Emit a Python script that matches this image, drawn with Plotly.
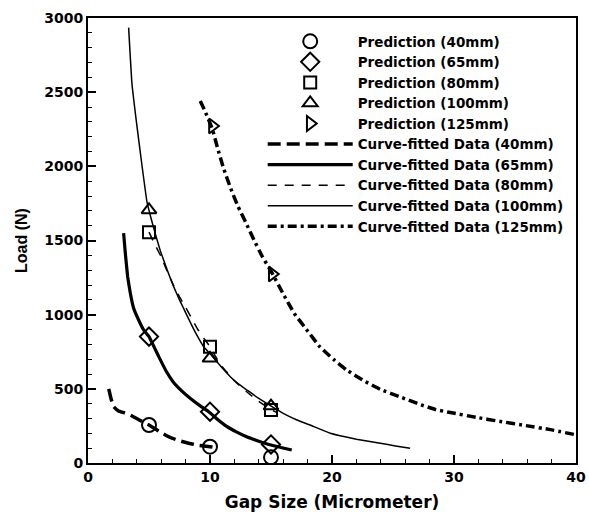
import plotly.graph_objects as go

# ---- Prediction points ----
pred_40_x = [5, 10, 15]
pred_40_y = [256, 110, 38]
pred_65_x = [5, 10, 15]
pred_65_y = [852, 346, 125]
pred_80_x = [5, 10, 15]
pred_80_y = [1556, 784, 357]
pred_100_x = [5, 10, 15]
pred_100_y = [1706, 706, 384]
pred_125_x = [10.2, 15.1]
pred_125_y = [2272, 1274]

# ---- Curve-fitted data ----
fit_40_x = [1.7, 1.9, 2.1, 2.5, 3.0, 3.5, 4.2, 5.0, 6.0, 6.75, 7.5, 8.25, 9.0, 10.0, 10.5]
fit_40_y = [500, 430, 380, 350, 338, 322, 290, 256, 205, 172, 150, 133, 120, 110, 105]
fit_65_x = [2.92, 3.06, 3.25, 3.47, 3.74, 4.15, 4.56, 5.0, 5.8, 6.4, 7.0, 7.7, 8.4, 9.2,
            9.9, 10.6, 11.4, 12.2, 13.0, 14.0, 15.0, 15.9, 16.7]
fit_65_y = [1550, 1414, 1256, 1144, 1043, 964, 897, 852, 717, 620, 545, 485, 435, 385,
            346, 295, 245, 208, 177, 147, 121, 103, 88]
fit_80_x = [5.0, 5.5, 6.0, 6.5, 7.0, 7.5, 8.0, 8.5, 9.0, 9.5, 10.0, 10.5, 11.0, 12.0,
            13.0, 14.0, 15.0, 15.5]
fit_80_y = [1556, 1470, 1390, 1290, 1200, 1120, 1050, 975, 900, 840, 784, 712, 650, 555,
            480, 415, 360, 340]
fit_100_x = [3.33, 3.6, 4.0, 4.42, 4.83, 5.2, 5.5, 5.93, 6.5, 7.02, 7.5, 8.11, 8.8, 9.48,
             10.16, 10.9, 11.66, 12.3, 13.03, 14.0, 15.08, 16.0, 17.13, 18.2, 19.86, 22.0,
             23.96, 25.2, 26.4]
fit_100_y = [2935, 2560, 2279, 2009, 1762, 1640, 1550, 1430, 1300, 1189, 1100, 995, 880, 784,
             722, 650, 582, 535, 492, 435, 380, 335, 290, 256, 200, 160, 133, 115, 99]
fit_125_x = [9.2, 9.6, 10.2, 10.6, 11.1, 11.7, 12.3, 13.0, 13.6, 14.3, 15.1, 16.0, 16.9, 18.0,
             19.0, 20.1, 21.2, 22.6, 24.0, 25.6, 27.2, 28.5, 29.7, 31.8, 33.8, 35.9, 37.9, 40.0]
fit_125_y = [2440, 2370, 2250, 2130, 1990, 1850, 1729, 1610, 1504, 1390, 1279, 1140, 1009, 890,
             784, 700, 627, 555, 495, 445, 395, 360, 340, 308, 280, 252, 225, 190]

x_ticks = [0, 10, 20, 30, 40]
y_ticks = [0, 500, 1000, 1500, 2000, 2500, 3000]

FONT = "DejaVu Sans"
BLACK = "black"

fig = go.Figure()

def pred(name, x, y, symbol, size=13):
    fig.add_trace(go.Scatter(
        x=x, y=y, mode="markers", name=name,
        marker=dict(symbol=symbol, size=size, color=BLACK,
                    line=dict(color=BLACK, width=2)),
    ))

pred("Prediction (40mm)", pred_40_x, pred_40_y, "circle-open", 14)
pred("Prediction (65mm)", pred_65_x, pred_65_y, "diamond-open", 14)
pred("Prediction (80mm)", pred_80_x, pred_80_y, "square-open", 12)
pred("Prediction (100mm)", pred_100_x, pred_100_y, "triangle-up-open", 13)
pred("Prediction (125mm)", pred_125_x, pred_125_y, "triangle-right-open", 13)

def fit(name, x, y, width, dash):
    fig.add_trace(go.Scatter(
        x=x, y=y, mode="lines", name=name,
        line=dict(color=BLACK, width=width, dash=dash, shape="spline", smoothing=0.3),
    ))

fit("Curve-fitted Data (40mm)", fit_40_x, fit_40_y, 3.5, "13px,6px")
fit("Curve-fitted Data (65mm)", fit_65_x, fit_65_y, 3.2, "solid")
fit("Curve-fitted Data (80mm)", fit_80_x, fit_80_y, 1.5, "9px,8px")
fit("Curve-fitted Data (100mm)", fit_100_x, fit_100_y, 1.5, "solid")
fit("Curve-fitted Data (125mm)", fit_125_x, fit_125_y, 3.5, "9px,4px,3px,4px")

axis_common = dict(
    showline=True, linecolor=BLACK, linewidth=2, mirror=True,
    ticks="inside", ticklen=8, tickwidth=2, tickcolor=BLACK,
    showgrid=False, zeroline=False, automargin=False,
    tickfont=dict(family=FONT, size=14, color=BLACK, weight="bold"),
)

fig.update_xaxes(
    range=[0, 40], tickvals=x_ticks, ticktext=[str(v) for v in x_ticks],
    minor=dict(dtick=2, ticks="inside", ticklen=4, tickwidth=1, tickcolor=BLACK),
    title=dict(text="<b>Gap Size (Micrometer)</b>", font=dict(family=FONT, size=17, color=BLACK), standoff=14),
    **axis_common,
)
fig.update_yaxes(
    range=[0, 3000], tickvals=y_ticks, ticktext=[str(v) for v in y_ticks],
    minor=dict(dtick=100, ticks="inside", ticklen=4, tickwidth=1, tickcolor=BLACK),
    title=dict(text="<b>Load (N)</b>", font=dict(family="Liberation Sans", size=16, color=BLACK), standoff=13),
    **axis_common,
)

fig.update_layout(
    width=589, height=512,
    margin=dict(l=88, r=13, t=18, b=49),
    paper_bgcolor="white", plot_bgcolor="white",
    showlegend=True,
    legend=dict(
        x=0.358, y=0.982, xanchor="left", yanchor="top",
        bgcolor="rgba(255,255,255,0)", borderwidth=0,
        font=dict(family=FONT, size=13.5, color=BLACK, weight="bold"),
        itemwidth=85, tracegroupgap=0,
    ),
)

fig.write_html("out.html")
